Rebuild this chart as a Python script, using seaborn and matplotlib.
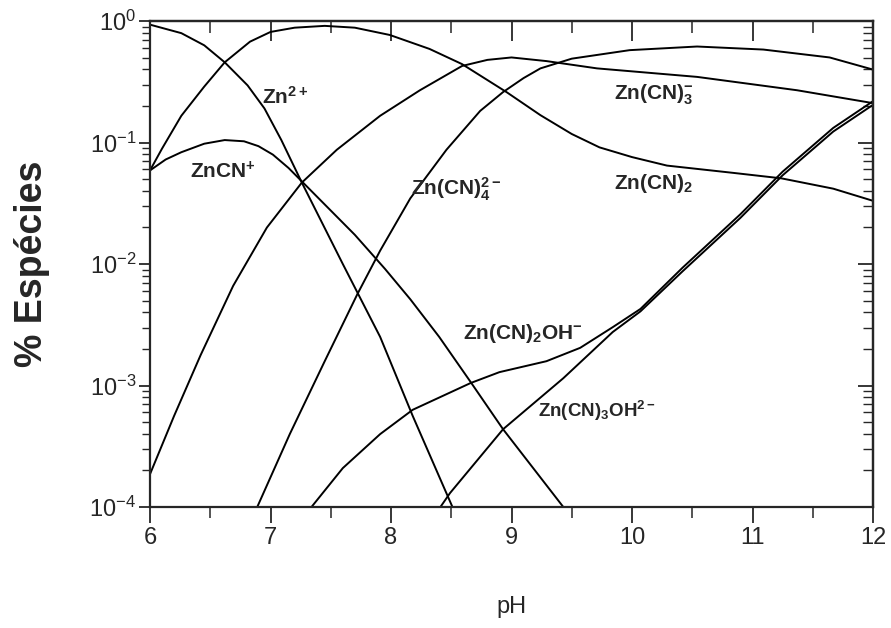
import numpy as np
import pandas as pd
import seaborn as sns
import matplotlib
matplotlib.use("Agg")
import matplotlib.pyplot as plt
from matplotlib.ticker import LogLocator, NullFormatter, MultipleLocator, LogFormatterSciNotation

# valores: pH e log10(fracao)
ph_zn = [6.0, 6.26, 6.45, 6.62, 6.81, 6.95, 7.09, 7.26, 7.6, 7.91, 8.18, 8.51]
lg_zn = [-0.03, -0.10, -0.20, -0.34, -0.53, -0.72, -0.98, -1.33, -2.0, -2.60, -3.25, -4.0]

ph_zncn = [6.0, 6.13, 6.26, 6.45, 6.62, 6.78, 6.90, 7.02, 7.15, 7.26, 7.7, 7.95, 8.16,
           8.4, 8.66, 8.93, 9.43]
lg_zncn = [-1.23, -1.14, -1.08, -1.01, -0.98, -0.99, -1.03, -1.10, -1.21, -1.32,
           -1.76, -2.04, -2.29, -2.60, -2.97, -3.36, -4.0]

ph_cn2 = [6.0, 6.1, 6.26, 6.45, 6.62, 6.83, 7.0, 7.2, 7.45, 7.7, 7.99, 8.32, 8.59,
          8.96, 9.24, 9.5, 9.73, 10.0, 10.29, 10.84, 11.24, 11.67, 12.0]
lg_cn2 = [-1.23, -1.05, -0.78, -0.54, -0.34, -0.17, -0.09, -0.055, -0.04, -0.055,
          -0.115, -0.23, -0.355, -0.586, -0.775, -0.93, -1.04, -1.12, -1.19, -1.25,
          -1.295, -1.38, -1.48]

ph_cn3 = [6.0, 6.2, 6.42, 6.69, 6.97, 7.26, 7.55, 7.91, 8.24, 8.59, 8.8, 9.0, 9.29,
          9.71, 10.54, 11.37, 12.0]
lg_cn3 = [-3.73, -3.25, -2.75, -2.18, -1.70, -1.33, -1.06, -0.78, -0.57, -0.37,
          -0.32, -0.30, -0.33, -0.39, -0.46, -0.57, -0.676]

ph_cn4 = [6.89, 7.16, 7.45, 7.72, 7.91, 8.16, 8.46, 8.74, 8.93, 9.1, 9.24, 9.5,
          9.98, 10.54, 11.09, 11.64, 12.0]
lg_cn4 = [-4.0, -3.40, -2.80, -2.25, -1.89, -1.46, -1.06, -0.74, -0.585, -0.47,
          -0.39, -0.31, -0.24, -0.21, -0.235, -0.30, -0.40]

ph_oh2 = [7.34, 7.6, 7.91, 8.18, 8.66, 8.90, 9.29, 9.57, 9.84, 10.07, 10.42, 10.90,
          11.25, 11.67, 12.0]
lg_oh2 = [-4.0, -3.68, -3.40, -3.20, -2.98, -2.89, -2.80, -2.69, -2.52, -2.37, -2.03,
          -1.59, -1.24, -0.88, -0.66]

ph_oh3 = [8.41, 8.49, 8.93, 9.43, 9.84, 10.07, 10.42, 10.90, 11.25, 11.67, 12.0]
lg_oh3 = [-4.0, -3.885, -3.36, -2.94, -2.56, -2.39, -2.06, -1.62, -1.27, -0.91, -0.69]

series = {
    "Zn2+": (ph_zn, lg_zn),
    "ZnCN+": (ph_zncn, lg_zncn),
    "Zn(CN)2": (ph_cn2, lg_cn2),
    "Zn(CN)3-": (ph_cn3, lg_cn3),
    "Zn(CN)4 2-": (ph_cn4, lg_cn4),
    "Zn(CN)2OH-": (ph_oh2, lg_oh2),
    "Zn(CN)3OH 2-": (ph_oh3, lg_oh3),
}

rows = []
for nome, (ph, lg) in series.items():
    for p, l in zip(ph, lg):
        rows.append({"especie": nome, "pH": p, "frac": 10 ** l})
df = pd.DataFrame(rows)

sns.set_style("ticks")
plt.rcParams["font.family"] = ["Liberation Sans", "DejaVu Sans"]
plt.rcParams["mathtext.fontset"] = "custom"
plt.rcParams["mathtext.rm"] = "Liberation Sans"
plt.rcParams["mathtext.bf"] = "Liberation Sans:bold"
plt.rcParams["mathtext.it"] = "Liberation Sans:italic"

px = 0.72
fig = plt.figure(figsize=(8.91, 6.28), dpi=100)
ax = fig.add_axes([150 / 891, 1 - 507 / 628, 723 / 891, 486 / 628])
ax.set_yscale("log")

sns.lineplot(data=df, x="pH", y="frac", units="especie", estimator=None, sort=False,
             color="black", linewidth=1.4, legend=False, ax=ax)

ax.set_xlim(6, 12)
ax.set_ylim(1e-4, 1)

ax.xaxis.set_major_locator(MultipleLocator(1))
ax.xaxis.set_minor_locator(MultipleLocator(0.5))
ax.yaxis.set_major_locator(LogLocator(base=10, numticks=10))
ax.yaxis.set_major_formatter(LogFormatterSciNotation())
ax.yaxis.set_minor_locator(LogLocator(base=10, subs=np.arange(2, 10), numticks=20))
ax.yaxis.set_minor_formatter(NullFormatter())

ax.tick_params(axis="x", which="major", direction="out", length=16 * px, width=1.3, pad=3, labelsize=17)
ax.tick_params(axis="x", which="minor", direction="out", length=11 * px, width=1.1)
ax.tick_params(axis="y", which="major", direction="out", length=11 * px, width=1.3, pad=2, labelsize=17)
ax.tick_params(axis="y", which="minor", direction="out", length=8 * px, width=1.0)

top = ax.secondary_xaxis("top")
top.xaxis.set_major_locator(MultipleLocator(1))
top.xaxis.set_minor_locator(MultipleLocator(0.5))
top.tick_params(which="major", direction="in", length=20 * px, width=1.3, labeltop=False)
top.tick_params(which="minor", direction="in", length=12 * px, width=1.1)

right = ax.secondary_yaxis("right")
right.yaxis.set_major_locator(LogLocator(base=10, numticks=10))
right.yaxis.set_minor_locator(LogLocator(base=10, subs=np.arange(2, 10), numticks=20))
right.tick_params(which="major", direction="in", length=15 * px, width=1.3, labelright=False)
right.tick_params(which="minor", direction="in", length=10 * px, width=1.0, labelright=False)
right.yaxis.set_minor_formatter(NullFormatter())

for s in ax.spines.values():
    s.set_linewidth(1.6)
for sec in (top, right):
    for s in sec.spines.values():
        s.set_linewidth(1.6)

ax.set_xlabel("pH", fontsize=17, labelpad=34)
ax.set_ylabel("% Espécies", fontsize=27, fontweight="bold", labelpad=28)

fs = 15
ax.text(6.93, 0.236, r"$\mathbf{Zn^{2+}}$", fontsize=fs, va="center")
ax.text(6.33, 0.057, r"$\mathbf{ZnCN^{+}}$", fontsize=fs, va="center")
ax.text(8.17, 0.041, r"$\mathbf{Zn(CN)_4^{2-}}$", fontsize=fs, va="center")
ax.text(9.85, 0.245, r"$\mathbf{Zn(CN)_3^{-}}$", fontsize=fs, va="center")
ax.text(9.85, 0.046, r"$\mathbf{Zn(CN)_2}$", fontsize=fs, va="center")
ax.text(8.60, 0.00267, r"$\mathbf{Zn(CN)_2OH^{-}}$", fontsize=fs, va="center")
ax.text(9.22, 0.00062, r"$\mathbf{Zn(CN)_3OH^{2-}}$", fontsize=fs - 1.5, va="center")

fig.savefig("out.png", dpi=100)
